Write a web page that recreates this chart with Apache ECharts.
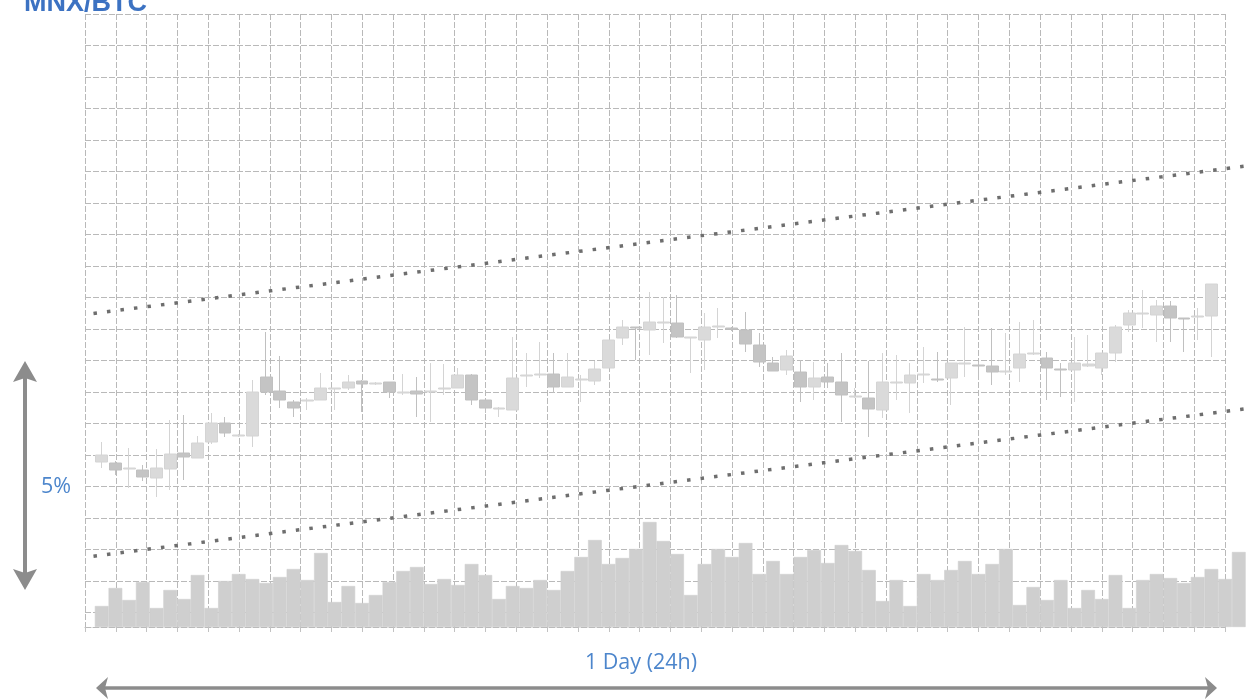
<!DOCTYPE html>
<html>
<head>
<meta charset="utf-8">
<script src="https://cdn.jsdelivr.net/npm/echarts@6/dist/echarts.min.js"></script>
<style>
  html, body { margin: 0; padding: 0; background: #fff; }
  #chart { width: 1248px; height: 699px; }
</style>
</head>
<body>
<div id="chart"></div>
<script>
// candle prices (satoshi), one entry per slot of the day
const opens = [4493, 4492, 4486, 4485, 4477, 4486, 4502, 4497, 4513, 4532, 4519, 4519, 4578, 4564, 4553, 4554, 4555, 4566, 4567, 4574,
  4571, 4573, 4562, 4564, 4563, 4566, 4567, 4580, 4555, 4546, 4545, 4579, 4580, 4581, 4568, 4575, 4574, 4587, 4617, 4628,
  4625, 4632, 4632, 4617, 4615, 4628, 4627, 4625, 4610, 4592, 4585, 4583, 4568, 4578, 4573, 4558, 4557, 4545, 4572, 4572,
  4580, 4576, 4577, 4591, 4590, 4589, 4583, 4587, 4601, 4597, 4586, 4585, 4589, 4587, 4602, 4630, 4641, 4640, 4649, 4637,
  4638, 4639];
const closes = [4500, 4485, 4487, 4478, 4487, 4501, 4498, 4512, 4532, 4522, 4520, 4563, 4563, 4555, 4547, 4555, 4567, 4567, 4573, 4571,
  4572, 4563, 4563, 4561, 4564, 4567, 4580, 4555, 4547, 4547, 4577, 4580, 4581, 4568, 4578, 4576, 4586, 4615, 4628, 4627,
  4633, 4633, 4618, 4618, 4628, 4629, 4626, 4611, 4593, 4584, 4599, 4568, 4577, 4573, 4560, 4559, 4546, 4573, 4573, 4580,
  4581, 4575, 4592, 4592, 4589, 4583, 4584, 4601, 4602, 4587, 4585, 4592, 4591, 4602, 4628, 4642, 4642, 4649, 4637, 4636,
  4639, 4671];
const lows = [4487, 4480, 4467, 4474, 4458, 4465, 4475, 4497, 4511, 4518, 4518, 4508, 4560, 4547, 4538, 4545, 4555, 4545, 4565, 4543,
  4570, 4557, 4560, 4538, 4533, 4560, 4567, 4550, 4542, 4538, 4545, 4568, 4577, 4562, 4568, 4553, 4570, 4587, 4610, 4595,
  4600, 4612, 4617, 4582, 4585, 4617, 4624, 4603, 4588, 4584, 4580, 4553, 4555, 4567, 4533, 4557, 4518, 4537, 4555, 4542,
  4572, 4573, 4550, 4578, 4575, 4570, 4580, 4573, 4600, 4555, 4558, 4553, 4588, 4580, 4593, 4623, 4627, 4613, 4613, 4603,
  4615, 4598];
const highs = [4513, 4494, 4507, 4490, 4506, 4535, 4540, 4519, 4542, 4538, 4521, 4575, 4623, 4599, 4555, 4557, 4582, 4567, 4580, 4575,
  4573, 4573, 4581, 4578, 4592, 4591, 4587, 4581, 4555, 4548, 4618, 4602, 4613, 4602, 4602, 4580, 4594, 4615, 4635, 4628,
  4663, 4658, 4660, 4618, 4642, 4647, 4628, 4643, 4622, 4598, 4605, 4595, 4593, 4592, 4602, 4567, 4594, 4602, 4600, 4592,
  4608, 4603, 4592, 4628, 4593, 4627, 4622, 4633, 4635, 4603, 4592, 4618, 4620, 4602, 4630, 4645, 4665, 4655, 4654, 4637,
  4647, 4671];
// traded volume per slot (the strip runs two slots past the last candle)
const volumes = [21, 39, 27, 45, 19, 37, 28, 52, 19, 46, 53, 48, 44, 50, 58, 47, 74, 25, 41, 24,
  32, 45, 56, 60, 43, 48, 42, 63, 52, 28, 41, 39, 47, 37, 56, 70, 87, 63, 69, 78,
  105, 86, 73, 32, 63, 78, 70, 84, 53, 66, 53, 70, 77, 64, 82, 76, 57, 26, 47, 21,
  53, 47, 57, 66, 53, 63, 78, 22, 40, 27, 47, 19, 37, 28, 52, 19, 47, 53, 49, 44,
  50, 58, 48, 75];
// trend channel: [slot index, price] at both ends
const channelTop = [[-0.6, 4641.5], [83.7, 4789.3]];
const channelBottom = [[-0.6, 4398.8], [83.7, 4546.6]];

const slots = volumes.map((v, i) => String(i + 1));
const candles = slots.map((s, i) => i < opens.length ? [opens[i], closes[i], lows[i], highs[i]] : '-');

const gridLine = { lineStyle: { color: '#b9b9b9', width: 1, type: [6, 2] } };
const blue = '#4d86cc';
const arrowGrey = '#8c8c8c';

const chart = echarts.init(document.getElementById('chart'));
chart.setOption({
  animation: false,
  backgroundColor: '#fff',
  grid: [
    { left: 85, top: 14, width: 1140, height: 613 },
    { left: 94.85, top: 14, width: 1150.8, height: 613 }
  ],
  xAxis: [
    {
      gridIndex: 0, type: 'value', min: 0, max: 37, interval: 1,
      axisLabel: { show: false },
      axisLine: { show: true, onZero: false, lineStyle: { color: '#b9b9b9', type: [6, 2] } },
      axisTick: { show: true, length: 5, lineStyle: { color: '#c2c2c2' } },
      splitLine: gridLine
    },
    { gridIndex: 1, type: 'category', data: slots, show: false },
    { gridIndex: 1, type: 'value', min: -0.5, max: 83.5, show: false }
  ],
  yAxis: [
    {
      gridIndex: 0, type: 'value', inverse: true, min: 0, max: 19.46, interval: 1,
      axisLabel: { show: false }, axisLine: { show: false }, axisTick: { show: false },
      splitLine: gridLine
    },
    { gridIndex: 1, type: 'value', min: 4328, max: 4941, show: false },
    { gridIndex: 1, type: 'value', min: 0, max: 613, show: false }
  ],
  series: [
    {
      name: 'Volume', type: 'bar', xAxisIndex: 1, yAxisIndex: 2,
      data: volumes, barWidth: '100%', barCategoryGap: '0%',
      itemStyle: { color: '#cfcfcf', borderColor: '#cfcfcf', borderWidth: 0.6 }, z: 2
    },
    {
      name: 'MNX/BTC', type: 'candlestick', xAxisIndex: 1, yAxisIndex: 1,
      data: candles, barWidth: '90%',
      itemStyle: { color: '#dadada', color0: '#c4c4c4', borderColor: '#d4d4d4', borderColor0: '#c0c0c0', borderWidth: 1 },
      z: 3
    },
    {
      name: 'upper', type: 'line', xAxisIndex: 2, yAxisIndex: 1, data: channelTop,
      symbol: 'none', clip: false, z: 4,
      lineStyle: { color: '#6e6e6e', width: 3.5, type: [3.5, 10.1] }
    },
    {
      name: 'lower', type: 'line', xAxisIndex: 2, yAxisIndex: 1, data: channelBottom,
      symbol: 'none', clip: false, z: 4,
      lineStyle: { color: '#6e6e6e', width: 3.5, type: [3.5, 10.1] }
    }
  ],
  graphic: [
    { type: 'text', x: 24, y: 17, style: { text: 'MNX/BTC', fill: '#3c72c2', font: 'bold 27px "Liberation Sans"', textVerticalAlign: 'bottom' } },
    { type: 'text', x: 56, y: 487, style: { text: '5%', fill: blue, font: '21.5px "Open Sans"', textAlign: 'center', textVerticalAlign: 'middle' } },
    { type: 'text', x: 641, y: 663, style: { text: '1 Day (24h)', fill: blue, font: '21.5px "Open Sans"', textAlign: 'center', textVerticalAlign: 'middle' } },
    // vertical 5% arrow
    { type: 'line', shape: { x1: 25, y1: 376, x2: 25, y2: 576 }, style: { stroke: arrowGrey, lineWidth: 4 } },
    { type: 'polygon', shape: { points: [[25, 361], [37, 382], [25, 378], [13, 382]] }, style: { fill: arrowGrey } },
    { type: 'polygon', shape: { points: [[25, 590], [37, 569], [25, 573], [13, 569]] }, style: { fill: arrowGrey } },
    // horizontal 1 day arrow
    { type: 'line', shape: { x1: 104, y1: 688, x2: 1209, y2: 688 }, style: { stroke: arrowGrey, lineWidth: 3.5 } },
    { type: 'polygon', shape: { points: [[96, 688], [108, 677], [105, 688], [108, 699]] }, style: { fill: arrowGrey } },
    { type: 'polygon', shape: { points: [[1217, 688], [1205, 677], [1208, 688], [1205, 699]] }, style: { fill: arrowGrey } }
  ]
});
</script>
</body>
</html>
